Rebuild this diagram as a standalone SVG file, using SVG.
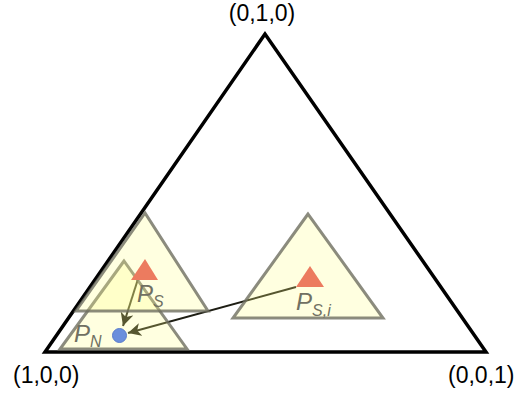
<svg xmlns="http://www.w3.org/2000/svg" width="519" height="395" viewBox="0 0 519 395">
<style>
.lbl{font-family:"Liberation Sans",Arial,sans-serif;font-size:23px;fill:#000}
.yt{fill:#ffff82;fill-opacity:0.25;stroke:#6e6e60;stroke-opacity:0.8;stroke-width:3;stroke-linejoin:miter}
.red{fill:#ec7b5f}
.pl{font-family:"Liberation Sans",Arial,sans-serif;font-style:italic;fill:#707062}
.conn{stroke:#1e1e14;stroke-width:2;fill:none}
</style>
<defs>
<marker id="ah" markerUnits="userSpaceOnUse" markerWidth="16" markerHeight="14" refX="13" refY="6.5" orient="auto">
<path d="M0,0 L13,6.5 L0,13 L3.5,6.5 z" fill="#1e1e14"/>
</marker>
</defs>
<g id="outer">
<polygon points="265,34 45,352 486,352" fill="none" stroke="#000" stroke-width="3.5"/>
<text class="lbl" x="262" y="21" text-anchor="middle">(0,1,0)</text>
<text class="lbl" x="13" y="383">(1,0,0)</text>
<text class="lbl" x="448" y="383">(0,0,1)</text>
</g>
<g id="connectors">
<line class="conn" x1="296" y1="287" x2="128" y2="333" marker-end="url(#ah)"/>
<line class="conn" x1="138" y1="279" x2="123" y2="326" marker-end="url(#ah)"/>
</g>
<g id="region-n">
<polygon class="yt" points="124,261 60,349 187,349"/>
</g>
<g id="region-s">
<polygon class="yt" points="145,213 76,311 208,311"/>
</g>
<g id="region-si">
<polygon class="yt" points="308,214 233,318 383,318"/>
</g>
<g id="ps">
<polygon class="red" points="145,259 131,280 158,280"/>
<text class="pl" x="137" y="302" font-size="24">P<tspan font-size="16" dy="5">S</tspan></text>
</g>
<g id="psi">
<polygon class="red" points="310,266 296,287 324,287"/>
<text class="pl" x="296" y="310" font-size="24">P<tspan font-size="16" dy="6">S,i</tspan></text>
</g>
<g id="pn">
<circle cx="119.5" cy="335.5" r="7" fill="#6b8fdc" stroke="#5a7ccc" stroke-width="1"/>
<text class="pl" x="74" y="342" font-size="24">P<tspan font-size="16" dy="5">N</tspan></text>
</g>
</svg>
